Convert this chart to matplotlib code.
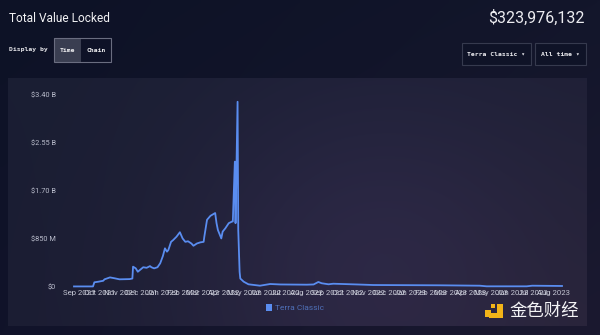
import numpy as np
import pandas as pd
import matplotlib.pyplot as plt
import matplotlib.dates as mdates
from matplotlib.patches import Rectangle, Patch, Polygon
from matplotlib.colors import to_rgb

# daily TVL samples (billions USD)
dates = ['2021-08-24', '2021-09-21', '2021-09-23', '2021-09-29', '2021-10-06',
         '2021-10-08', '2021-10-16', '2021-10-23', '2021-10-30', '2021-11-14',
         '2021-11-18', '2021-11-19', '2021-11-23', '2021-11-26', '2021-11-30',
         '2021-12-04', '2021-12-09', '2021-12-14', '2021-12-16', '2021-12-20',
         '2021-12-25', '2021-12-29', '2022-01-02', '2022-01-05', '2022-01-08',
         '2022-01-10', '2022-01-14', '2022-01-17', '2022-01-22', '2022-01-27',
         '2022-01-31', '2022-02-04', '2022-02-08', '2022-02-13', '2022-02-16',
         '2022-02-21', '2022-02-26', '2022-03-03', '2022-03-04', '2022-03-08',
         '2022-03-13', '2022-03-20', '2022-03-22', '2022-03-24', '2022-03-29',
         '2022-03-31', '2022-04-04', '2022-04-09', '2022-04-14', '2022-04-15',
         '2022-04-18', '2022-04-19', '2022-04-22', '2022-04-23', '2022-04-25',
         '2022-04-26', '2022-05-01', '2022-05-08', '2022-05-25', '2022-06-09',
         '2022-06-24', '2022-08-02', '2022-08-12', '2022-08-19', '2022-08-24',
         '2022-09-03', '2022-09-10', '2022-10-15', '2022-11-08', '2023-02-14',
         '2023-04-14', '2023-04-24', '2023-06-22', '2023-06-30', '2023-08-13']
tvl_bn = [0.01, 0.01, 0.083, 0.094, 0.11,
          0.136, 0.17, 0.154, 0.136, 0.14,
          0.15, 0.36, 0.33, 0.27, 0.31,
          0.35, 0.34, 0.37, 0.35, 0.33,
          0.35, 0.42, 0.55, 0.685, 0.625,
          0.655, 0.80, 0.83, 0.89, 0.97,
          0.86, 0.80, 0.81, 0.77, 0.73,
          0.77, 0.79, 0.80, 0.89, 1.19,
          1.26, 1.31, 1.13, 1.01, 0.86,
          0.98, 1.04, 1.13, 1.16, 1.16,
          2.22, 1.13, 3.28, 1.01, 0.27,
          0.15, 0.094, 0.048, 0.023, 0.053,
          0.045, 0.041, 0.045, 0.089, 0.066,
          0.048, 0.058, 0.045, 0.035, 0.030,
          0.023, 0.012, 0.012, 0.023, 0.018]

month_ticks = pd.date_range('2021-09-01', '2023-08-01', freq='MS')
y_ticks = [0, 0.85, 1.70, 2.55, 3.40]
y_labels = ['$0', '$850 M', '$1.70 B', '$2.55 B', '$3.40 B']
headline = '$323,976,132'
chain_name = 'Terra Classic'

W, H = 600, 335
LINE = '#5a8df0'


def gradient(w, h, tl, tr, bl, br, glow=None):
    u = np.linspace(0, 1, w)[None, :, None]
    v = np.linspace(0, 1, h)[:, None, None]
    tl, tr, bl, br = (np.array(to_rgb(c)) for c in (tl, tr, bl, br))
    img = (tl * (1 - u) * (1 - v) + tr * u * (1 - v)
           + bl * (1 - u) * v + br * u * v)
    if glow is not None:
        cx, cy, r, col = glow
        d2 = ((u - cx) ** 2 + ((v - cy) * h / w) ** 2)
        img = img + np.array(col)[None, None, :] * np.exp(-d2 / r ** 2)
    return np.clip(img, 0, 1)


fig = plt.figure(figsize=(W / 100, H / 100), dpi=100)

bg = fig.add_axes([0, 0, 1, 1])
bg.set_xlim(0, W)
bg.set_ylim(H, 0)
bg.axis('off')
bg.imshow(gradient(120, 67, '#0d1226', '#13162b', '#11132a', '#1b1930'),
          extent=(0, W, H, 0), aspect='auto', interpolation='bilinear')
bg.imshow(gradient(200, 90, '#1a1e33', '#1f2036', '#1b1d33', '#272338',
                   glow=(0.62, 0.75, 0.32, (0.045, 0.03, 0.06))),
          extent=(8, 587, 326, 78), aspect='auto', interpolation='bilinear')
bg.set_xlim(0, W)
bg.set_ylim(H, 0)

# header
bg.text(9, 18, 'Total Value Locked', color='#f2f2f4', fontsize=8.6,
        family='Roboto', va='center', ha='left')
bg.text(585, 18, headline, color='#ececf0', fontsize=11.5, family='Roboto',
        va='center', ha='right')

mono = ['DejaVu Sans Mono', 'DejaVu Sans']
bg.text(9, 50, 'Display by', color='#e6e6ea', fontsize=4.6, family=mono,
        weight='bold', va='center', ha='left')
bg.add_patch(Rectangle((54, 38), 27, 24, facecolor='#3a3e51', edgecolor='none'))
bg.add_patch(Rectangle((54, 38), 57, 24, facecolor='none', edgecolor='#6a6d80', lw=0.8))
bg.text(67.5, 50, 'Time', color='#f0f0f2', fontsize=4.6, family=mono,
        weight='bold', va='center', ha='center')
bg.text(96, 50, 'Chain', color='#f0f0f2', fontsize=4.6, family=mono,
        weight='bold', va='center', ha='center')

for x0, x1, label in [(462, 531, chain_name + ' \u25be'), (535, 586, 'All time \u25be')]:
    bg.add_patch(Rectangle((x0, 43), x1 - x0, 22, facecolor='#0f1327',
                           edgecolor='#363a4e', lw=0.8))
    bg.text((x0 + x1) / 2, 54, label, color='#eeeef2', fontsize=4.6,
            family=mono, weight='bold', va='center', ha='center')

# watermark
gold = '#f2b418'
bg.add_patch(Rectangle((485, 310), 6, 7, facecolor=gold, edgecolor='none'))
bg.add_patch(Polygon([(497, 304), (503, 304), (503, 318), (489, 318),
                      (489, 313), (497, 313)], closed=True,
                     facecolor=gold, edgecolor='none'))
bg.add_patch(Rectangle((491, 304), 4, 4, facecolor=gold, edgecolor='none'))
bg.text(509, 311, '金色财经', color='#f4f4f6', fontsize=12.5,
        family=['Noto Sans CJK SC', 'DejaVu Sans'], va='center', ha='left')

# chart
ax = fig.add_axes([74 / W, 1 - 287 / H, (562 - 74) / W, (287 - 95) / H])
ax.patch.set_alpha(0)
x = pd.to_datetime(dates)
ax.plot(x, tvl_bn, color=LINE, lw=1.3, solid_joinstyle='round',
        label=chain_name, clip_on=False)
ax.set_xlim(x[0], x[-1])
ax.set_ylim(0, 3.4)
for s in ax.spines.values():
    s.set_visible(False)
ax.set_yticks(y_ticks)
ax.set_yticklabels(y_labels)
ax.set_xticks(month_ticks)
ax.xaxis.set_major_formatter(mdates.DateFormatter('%b %Y'))
ax.tick_params(axis='y', length=0, pad=13, labelsize=5.3, labelcolor='#b9bccb')
ax.tick_params(axis='x', length=0, pad=2.5, labelsize=5.6, labelcolor='#c3c5d2')
for t in ax.get_xticklabels() + ax.get_yticklabels():
    t.set_family('Roboto')

ax.legend(handles=[Patch(facecolor=LINE, edgecolor='none', label=chain_name)],
          loc='center', bbox_to_anchor=(295 / W, 1 - 307.5 / H),
          bbox_transform=fig.transFigure, frameon=False,
          labelcolor='#4f70b8', handlelength=0.7, handleheight=0.9,
          handletextpad=0.3, prop={'family': 'Roboto', 'size': 6})

fig.savefig('out.png', dpi=100)
